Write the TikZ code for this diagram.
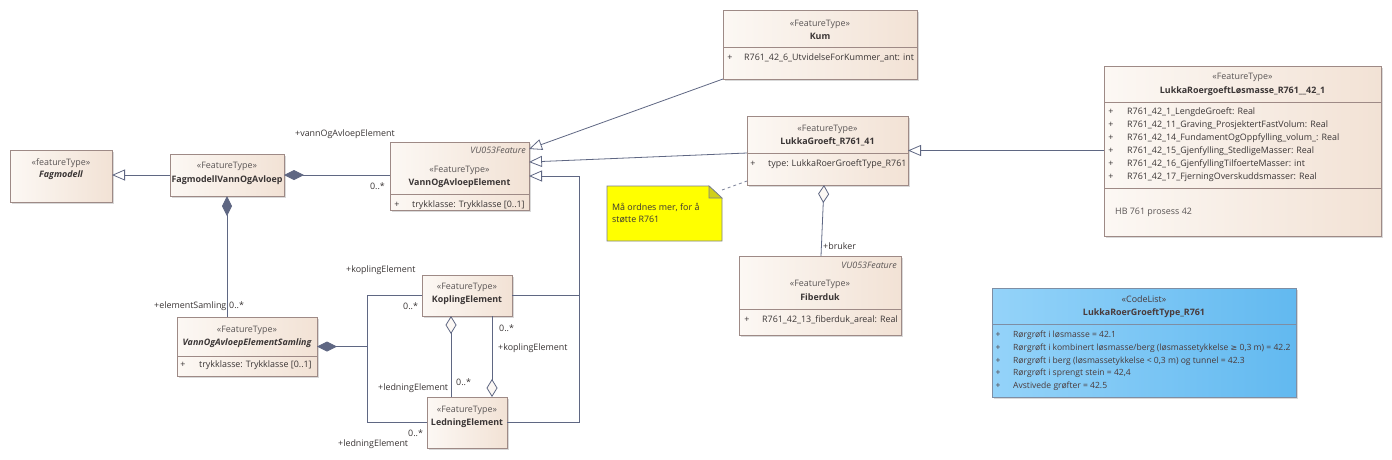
\documentclass[tikz,border=0pt]{standalone}
\usepackage{fontspec}
\setmainfont{Open Sans}
\newfontfamily\symf{DejaVu Sans}
\usetikzlibrary{shadows,calc,arrows.meta}
\definecolor{lnC}{HTML}{5F6783}
\definecolor{bdC}{HTML}{9E8A86}
\definecolor{fL}{HTML}{FCF8F4}
\definecolor{fR}{HTML}{F2E2D5}
\definecolor{txC}{HTML}{3A3535}
\definecolor{stC}{HTML}{5A5555}
\definecolor{cbL}{HTML}{94D3F9}
\definecolor{cbR}{HTML}{62B9F0}
\definecolor{cbB}{HTML}{7E8EA4}
\definecolor{cbT}{HTML}{4A3A3A}
\definecolor{noteY}{HTML}{FFFF00}
\definecolor{noteF}{HTML}{CFCF1A}
\definecolor{noteB}{HTML}{7A7F90}
\newcommand\dfont{\fontsize{8.9}{11}\selectfont}
\newcommand\cfont{\fontsize{8.55}{11}\selectfont}
\tikzset{
 cls/.style={draw=bdC, line width=0.7pt, left color=fL, right color=fR, anchor=north west, inner sep=0pt, outer sep=0pt,
   drop shadow={shadow xshift=2pt, shadow yshift=-2pt, fill=black, opacity=0.15}},
 cbox/.style={cls, draw=cbB, left color=cbL, right color=cbR},
 txt/.style={inner sep=0pt, text height=6.5pt, text depth=2pt, font=\dfont, text=txC},
 ster/.style={txt, text=stC},
 nm/.style={txt, font=\dfont\bfseries},
 lbl/.style={txt, anchor=west},
 rlbl/.style={txt, anchor=east},
 ctxt/.style={txt, font=\cfont, text=cbT},
 ln/.style={draw=lnC, line width=0.8pt},
 gen/.style={ln, -{Triangle[length=13pt, width=11pt, fill=white]}},
 comp/.style={ln, {Diamond[length=20pt, width=10pt, fill=lnC]}-},
 agg/.style={ln, {Diamond[length=18pt, width=11pt, fill=fL]}-},
 divl/.style={draw=bdC, line width=0.7pt},
}
\begin{document}
\begin{tikzpicture}[x=1pt,y=-1pt]
\useasboundingbox (0,0) rectangle (1392,459);
\fill[white] (0,0) rectangle (1392,459);

% ---------- class boxes ----------
\node[cls, minimum width=102pt, minimum height=52pt] (fag) at (10,150) {};
\node[cls, minimum width=114pt, minimum height=42pt] (fvoa) at (170,154) {};
\node[cls, minimum width=139pt, minimum height=68pt] (voae) at (390,142) {};
\node[cls, minimum width=194pt, minimum height=69pt] (kum) at (723,10) {};
\node[cls, minimum width=161pt, minimum height=69pt] (lg) at (747,116) {};
\node[cls, minimum width=277pt, minimum height=170pt] (lrl) at (1104,66) {};
\node[cls, minimum width=162pt, minimum height=79pt] (fib) at (739,256) {};
\node[cls, minimum width=140pt, minimum height=59pt] (saml) at (177,317) {};
\node[cls, minimum width=90pt, minimum height=41pt] (kop) at (422,275) {};
\node[cls, minimum width=80pt, minimum height=51pt] (led) at (427,397) {};
\node[cbox, minimum width=304pt, minimum height=109pt] (code) at (992,288) {};

% compartment dividers
\draw[divl] (voae.west |- 0,194) -- (voae.east |- 0,194);
\draw[divl] (kum.west |- 0,47) -- (kum.east |- 0,47);
\draw[divl] (lg.west |- 0,153) -- (lg.east |- 0,153);
\draw[divl] (lrl.west |- 0,102) -- (lrl.east |- 0,102);
\draw[divl] (lrl.west |- 0,188) -- (lrl.east |- 0,188);
\draw[divl] (fib.west |- 0,309) -- (fib.east |- 0,309);
\draw[divl] (saml.west |- 0,356) -- (saml.east |- 0,356);
\draw[draw=cbB, line width=0.7pt] (code.west |- 0,324) -- (code.east |- 0,324);

% ---------- texts ----------
\node[ster] at (61,163) {«featureType»};
\node[nm, font=\dfont\bfseries\itshape] at (61,175) {Fagmodell};

\node[ster] at (227,166) {«FeatureType»};
\node[nm] at (227,180) {FagmodellVannOgAvloep};

\node[rlbl, font=\dfont\itshape, text=stC] at (526,151) {VU053Feature};
\node[ster] at (459.5,170) {«FeatureType»};
\node[nm] at (459.5,183) {VannOgAvloepElement};
\node[txt] at (397,205) {+};
\node[lbl] at (412,205) {trykklasse: Trykklasse [0..1]};

\node[ster] at (820,24) {«FeatureType»};
\node[nm] at (820,37) {Kum};
\node[txt] at (730,58) {+};
\node[lbl] at (744,58) {R761\_42\_6\_UtvidelseForKummer\_ant: int};

\node[ster] at (827.5,129) {«FeatureType»};
\node[nm] at (827.5,142) {LukkaGroeft\_R761\_41};
\node[txt] at (753,164) {+};
\node[lbl] at (768,164) {type: LukkaRoerGroeftType\_R761};

\node[ster] at (1242.5,77) {«FeatureType»};
\node[nm] at (1242.5,91) {LukkaRoergoeftLøsmasse\_R761\_\_42\_1};
\foreach \yy/\tt in {112/{R761\_42\_1\_LengdeGroeft: Real},
  125/{R761\_42\_11\_Graving\_ProsjektertFastVolum: Real},
  138/{R761\_42\_14\_FundamentOgOppfylling\_volum\_: Real},
  151/{R761\_42\_15\_Gjenfylling\_StedligeMasser: Real},
  164/{R761\_42\_16\_GjenfyllingTilfoerteMasser: int},
  177/{R761\_42\_17\_FjerningOverskuddsmasser: Real}}{
  \node[txt] at (1111,\yy) {+};
  \node[lbl] at (1127,\yy) {\tt};
}
\node[lbl, text=stC] at (1115,212) {HB 761 prosess 42};

\node[rlbl, font=\dfont\itshape, text=stC] at (897,266) {VU053Feature};
\node[ster] at (820,284) {«FeatureType»};
\node[nm] at (820,298) {Fiberduk};
\node[txt] at (747,320) {+};
\node[lbl] at (762,320) {R761\_42\_13\_fiberduk\_areal: Real};

\node[ster] at (247,330) {«FeatureType»};
\node[nm, font=\dfont\bfseries\itshape] at (247,343) {VannOgAvloepElementSamling};
\node[txt] at (183,365) {+};
\node[lbl] at (199,365) {trykklasse: Trykklasse [0..1]};

\node[ster] at (467,287) {«FeatureType»};
\node[nm] at (467,300) {KoplingElement};
\node[ster] at (467,410) {«FeatureType»};
\node[nm] at (467,423) {LedningElement};

\node[ctxt, font=\dfont] at (1144,300) {«CodeList»};
\node[ctxt, font=\dfont\bfseries] at (1144,313) {LukkaRoerGroeftType\_R761};
\foreach \yy/\tt in {335/{Rørgrøft i løsmasse = 42.1},
  348/{Rørgrøft i kombinert løsmasse/berg (løsmassetykkelse {\symf\fontsize{8}{10}\selectfont ≥} 0,3 m) = 42.2},
  361/{Rørgrøft i berg (løsmassetykkelse < 0,3 m) og tunnel = 42.3},
  373/{Rørgrøft i sprengt stein = 42,4},
  386/{Avstivede grøfter = 42.5}}{
  \node[ctxt] at (998,\yy) {+};
  \node[ctxt, anchor=west] at (1013,\yy) {\tt};
}

% ---------- note ----------
\node[inner sep=0pt, outer sep=0pt, minimum width=115pt, minimum height=55pt, anchor=north west] (note) at (607,186) {};
\filldraw[fill=noteY, draw=noteB, line width=0.7pt] (note.north west) -- ($(note.north east)+(-13,0)$) -- ($(note.north east)+(0,12)$) -- (note.south east) -- (note.south west) -- cycle;
\filldraw[fill=noteF, draw=noteB, line width=0.7pt] ($(note.north east)+(-13,0)$) -- ($(note.north east)+(-13,12)$) -- ($(note.north east)+(0,12)$) -- cycle;
\node[lbl] at (612,208) {Må ordnes mer, for å};
\node[lbl] at (612,220) {støtte R761};
\draw[ln, dashed, draw=lnC!80] ($(note.north east)+(0,4)$) -- ($(lg.south west)+(0,-4)$);

% ---------- connectors ----------
\draw[gen] (fvoa.west) -- (fvoa.west -| fag.east);
\draw[comp] (fvoa.east) -- (fvoa.east -| voae.west);
\draw[comp] (fvoa.south) -- (fvoa.south |- saml.north);
\draw[ln] (kop.west) -- ++(-55,0) coordinate (k1) |- (led.west);
\draw[comp] (saml.east) -- (saml.east -| k1);
\draw[ln] (kop.east) -- ($(kop.east)+(67,0)$);
\draw[gen] (led.east) -| ($(voae.east)+(50,0)$) -- (voae.east);
\draw[agg] ($(kop.south)+(-16,0)$) -- ($(led.north)+(-16,0)$);
\draw[agg] ($(led.north)+(25,0)$) -- ($(kop.south)+(25,0)$);
\draw[gen] (kum.south west) -- ($(voae.east)+(0,-27)$);
\draw[gen] ($(lg.west)+(0,2.5)$) -- ($(voae.east)+(0,-14)$);
\draw[gen] (lrl.west |- lg.east) -- (lg.east);
\draw[agg] ($(lg.south)+(-3.5,0)$) -- ($(fib.north)+(1,0)$);

% ---------- role labels ----------
\node[lbl] at (295,134) {+vannOgAvloepElement};
\node[rlbl] at (385,187) {0..*};
\node[lbl] at (154,306) {+elementSamling};
\node[lbl] at (229,306) {0..*};
\node[lbl] at (346,270) {+koplingElement};
\node[lbl] at (403,307) {0..*};
\node[lbl] at (499,329) {0..*};
\node[lbl] at (498,348) {+koplingElement};
\node[lbl] at (378,388) {+ledningElement};
\node[lbl] at (456,383) {0..*};
\node[lbl] at (408,434) {0..*};
\node[lbl] at (338,444) {+ledningElement};
\node[lbl] at (823,247) {+bruker};
\end{tikzpicture}
\end{document}
